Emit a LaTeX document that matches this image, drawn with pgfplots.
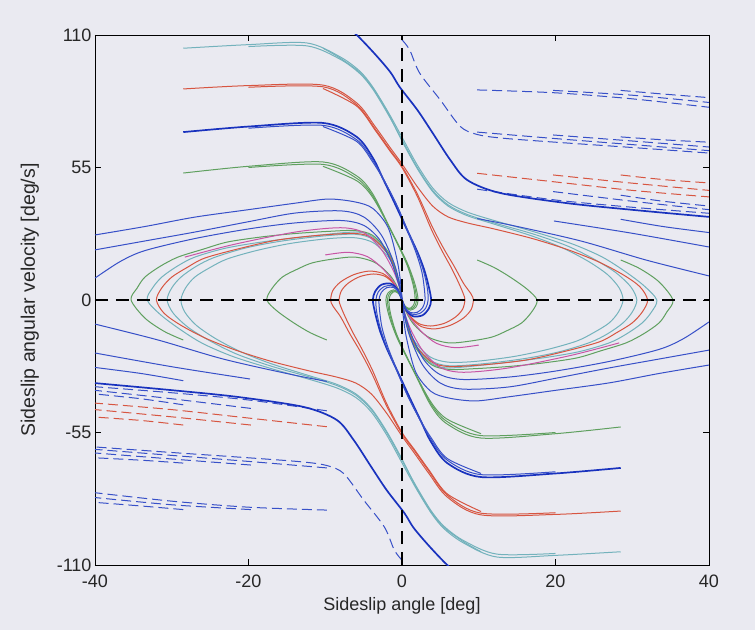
\documentclass[border=0pt]{standalone}
\usepackage{fontspec}
\setmainfont{Liberation Sans}
\usepackage{pgfplots}
\pgfplotsset{compat=1.18}
\definecolor{bgc}{RGB}{234,234,241}
\definecolor{cy}{RGB}{115,178,188}
\definecolor{rd}{RGB}{215,85,65}
\definecolor{gn}{RGB}{95,160,95}
\definecolor{bl}{RGB}{55,80,200}
\definecolor{bk}{RGB}{25,50,190}
\definecolor{pk}{RGB}{200,85,165}
\begin{document}
\begin{tikzpicture}
\fill[bgc] (-95pt,-65pt) rectangle (660pt,565pt);
\begin{axis}[
 scale only axis, width=614pt, height=530pt,
 xmin=-40,xmax=40,ymin=-110,ymax=110,
 xtick={-40,-20,0,20,40}, ytick={-110,-55,0,55,110},
 tick align=inside, major tick length=6pt,
 axis line style={black, line width=0.8pt},
 every tick/.style={black, line width=0.8pt},
 tick label style={font=\fontsize{18}{20}\selectfont, text=black!85},
 xticklabel style={yshift=-6pt},
 label style={text=black!85},
 /pgf/number format/assume math mode=true,
 xlabel={Sideslip angle [deg]},
 ylabel={Sideslip angular velocity [deg/s]},
 xlabel style={font=\fontsize{18}{20}\selectfont, at={(axis description cs:0.5,-0.077)},anchor=center},
 ylabel style={font=\fontsize{19.5}{21}\selectfont, at={(axis description cs:-0.106,0.5)},anchor=center},
 axis background/.style={fill=bgc},
 tr/.style={smooth, line width=1pt},
 cyl/.style={tr, cy},
 rdl/.style={tr, rd},
 gnl/.style={tr, gn},
 bll/.style={tr, bl},
 bkl/.style={tr, bk, line width=1.7pt},
 pkl/.style={tr, pk},
 dbl/.style={tr, bl, dash pattern=on 10pt off 5pt},
 drd/.style={tr, rd, dash pattern=on 10pt off 5pt},
]
% ---- cyan big loops
\addplot[cyl] coordinates {(-28.5,104.5) (-20,106) (-12.4,106.7) (-8.1,101) (-5.5,95) (-3.8,88.4) (-1.8,78) (0,67.6) (2,56) (4,46.5) (6,40.5) (8.5,36.5) (12,33) (17,28.5) (22,23.5) (26,18) (29,12) (31.5,6) (33.2,0) (32.5,-5) (31.3,-9.5) (29.3,-14) (27,-17.8) (23,-21.5) (18.2,-24.1) (12,-26.5) (6.1,-28.2) (3.8,-26.2) (1.6,-18.5) (0.5,-8.5) (0,0)};
\addplot[cyl] coordinates {(28.5,-104.5) (20,-106) (12.4,-106.7) (8.1,-101) (5.5,-95) (3.8,-88.4) (1.8,-78) (0,-67.6) (-2,-56) (-4,-46.5) (-6,-40.5) (-8.5,-36.5) (-12,-33) (-17,-28.5) (-22,-23.5) (-26,-18) (-29,-12) (-31.5,-6) (-33.2,0) (-32.5,5) (-31.3,9.5) (-29.3,14) (-27,17.8) (-23,21.5) (-18.2,24.1) (-12,26.5) (-6.1,28.2) (-3.8,26.2) (-1.6,18.5) (-0.5,8.5) (0,0)};
\addplot[cyl] coordinates {(-20,105.2) (-12.4,105.5) (-8.1,100) (-5.5,94) (-3.8,87.5) (-1.8,77) (0,66.5) (2,55) (4,45.5) (6,39.5) (8.5,35.5) (12,32) (17,27.5) (21.5,22.5) (25,17) (27.8,11.5) (29.8,5.5) (30.6,0) (30,-5) (28.8,-9.5) (26.8,-14) (24.5,-17.6) (20.5,-21.5) (16,-24.3) (10.5,-26.5) (6.1,-27.3) (3.7,-25) (1.5,-17.5) (0.4,-8) (0,0)};
\addplot[cyl] coordinates {(20,-105.2) (12.4,-105.5) (8.1,-100) (5.5,-94) (3.8,-87.5) (1.8,-77) (0,-66.5) (-2,-55) (-4,-45.5) (-6,-39.5) (-8.5,-35.5) (-12,-32) (-17,-27.5) (-21.5,-22.5) (-25,-17) (-27.8,-11.5) (-29.8,-5.5) (-30.6,0) (-30,5) (-28.8,9.5) (-26.8,14) (-24.5,17.6) (-20.5,21.5) (-16,24.3) (-10.5,26.5) (-6.1,27.3) (-3.7,25) (-1.5,17.5) (-0.4,8) (0,0)};
\addplot[cyl] coordinates {(-10.3,104.5) (-8.1,100.5) (-5.5,94.5) (-3.8,88) (-1.8,77.5) (0,66) (2,54.5) (4,45) (6,39) (8.5,35) (12,31.5) (17,26.5) (21,21.5) (24.3,16) (26.8,10.5) (28.3,5) (28.8,0) (28.2,-5) (27,-9.5) (25,-13.5) (22.8,-17) (19,-20.5) (14.5,-23.5) (9.5,-25.5) (6,-25.8) (3.6,-23.5) (1.5,-16.5) (0.4,-7.5) (0,0)};
\addplot[cyl] coordinates {(10.3,-104.5) (8.1,-100.5) (5.5,-94.5) (3.8,-88) (1.8,-77.5) (0,-66) (-2,-54.5) (-4,-45) (-6,-39) (-8.5,-35) (-12,-31.5) (-17,-26.5) (-21,-21.5) (-24.3,-16) (-26.8,-10.5) (-28.3,-5) (-28.8,0) (-28.2,5) (-27,9.5) (-25,13.5) (-22.8,17) (-19,20.5) (-14.5,23.5) (-9.5,25.5) (-6,25.8) (-3.6,23.5) (-1.5,16.5) (-0.4,7.5) (0,0)};
% ---- red
\addplot[rdl] coordinates {(-28.5,87.6) (-20,89) (-10.3,89.2) (-5.9,81.8) (-3.5,72) (-1.6,63.5) (0,56.5) (2,47) (4,39) (6,34.5) (8.5,32) (12,29.5) (17,25.5) (21.5,21) (25.5,16) (28.8,10.5) (31,5.5) (32,0) (31.3,-5) (30,-9.5) (28,-13.5) (25.7,-17.4) (21,-21.5) (16.2,-24.9) (11,-26.8) (6.1,-27.6) (3.8,-25.6) (1.6,-18) (0.5,-8) (0,0)};
\addplot[rdl] coordinates {(28.5,-87.6) (20,-89) (10.3,-89.2) (5.9,-81.8) (3.5,-72) (1.6,-63.5) (0,-56.5) (-2,-47) (-4,-39) (-6,-34.5) (-8.5,-32) (-12,-29.5) (-17,-25.5) (-21.5,-21) (-25.5,-16) (-28.8,-10.5) (-31,-5.5) (-32,0) (-31.3,5) (-30,9.5) (-28,13.5) (-25.7,17.4) (-21,21.5) (-16.2,24.9) (-11,26.8) (-6.1,27.6) (-3.8,25.6) (-1.6,18) (-0.5,8) (0,0)};
\addplot[rdl] coordinates {(-20,88.3) (-10.3,88.5) (-5.9,81) (-3.5,71) (-1.6,62.5) (0,55.5) (2,44) (4,30) (5.5,21) (6.8,14) (8,7) (9,2.5) (9.3,0) (9,-4) (8,-7.5) (6.3,-10.5) (4.3,-12) (2.5,-11) (1.2,-7.5) (0.3,-3) (0,0)};
\addplot[rdl] coordinates {(20,-88.3) (10.3,-88.5) (5.9,-81) (3.5,-71) (1.6,-62.5) (0,-55.5) (-2,-44) (-4,-30) (-5.5,-21) (-6.8,-14) (-8,-7) (-9,-2.5) (-9.3,0) (-9,4) (-8,7.5) (-6.3,10.5) (-4.3,12) (-2.5,11) (-1.2,7.5) (-0.3,3) (0,0)};
\addplot[rdl] coordinates {(-10.3,87.8) (-5.9,80.5) (-3.5,70.5) (-1.6,62) (0,55) (2,43) (3.8,29.5) (5.2,20.5) (6.4,13.5) (7.4,7) (8,2.5) (8.2,0) (7.9,-3.8) (7,-7) (5.5,-9.7) (3.7,-10.8) (2.2,-9.8) (1,-6.5) (0.3,-2.8) (0,0)};
\addplot[rdl] coordinates {(10.3,-87.8) (5.9,-80.5) (3.5,-70.5) (1.6,-62) (0,-55) (-2,-43) (-3.8,-29.5) (-5.2,-20.5) (-6.4,-13.5) (-7.4,-7) (-8,-2.5) (-8.2,0) (-7.9,3.8) (-7,7) (-5.5,9.7) (-3.7,10.8) (-2.2,9.8) (-1,6.5) (-0.3,2.8) (0,0)};
% ---- green
\addplot[gnl] coordinates {(-28.5,52.7) (-20,55.5) (-10.3,57.3) (-5.9,51.5) (-3.8,44) (-1.6,30) (0.6,16) (1.7,6.5) (2.1,0) (1.8,-3) (1.1,-4.2) (0.4,-2.9) (0,0)};
\addplot[gnl] coordinates {(28.5,-52.7) (20,-55.5) (10.3,-57.3) (5.9,-51.5) (3.8,-44) (1.6,-30) (-0.6,-16) (-1.7,-6.5) (-2.1,0) (-1.8,3) (-1.1,4.2) (-0.4,2.9) (0,0)};
\addplot[gnl] coordinates {(-20,55) (-10.3,56.3) (-5.9,50.5) (-3.8,43.2) (-1.5,29.3) (0.6,15.5) (1.6,6) (1.9,0) (1.6,-2.8) (1,-3.8) (0.4,-2.6) (0,0)};
\addplot[gnl] coordinates {(20,-55) (10.3,-56.3) (5.9,-50.5) (3.8,-43.2) (1.5,-29.3) (-0.6,-15.5) (-1.6,-6) (-1.9,0) (-1.6,2.8) (-1,3.8) (-0.4,2.6) (0,0)};
\addplot[gnl] coordinates {(-10.3,55.5) (-5.9,49.5) (-3.8,42.5) (-1.4,28.5) (0.6,15) (1.5,5.6) (1.7,0) (1.4,-2.6) (0.9,-3.5) (0.3,-2.3) (0,0)};
\addplot[gnl] coordinates {(10.3,-55.5) (5.9,-49.5) (3.8,-42.5) (1.4,-28.5) (-0.6,-15) (-1.5,-5.6) (-1.7,0) (-1.4,2.6) (-0.9,3.5) (-0.3,2.3) (0,0)};
\addplot[gnl] coordinates {(28.5,16.6) (31,13) (33.5,7.5) (35.3,0) (34.5,-5) (33.5,-9.5) (31.5,-14) (29.2,-17.8) (26,-21) (22.7,-24.1) (18,-26.3) (13.9,-27.6) (9.5,-28.5) (6.1,-28.8) (3.8,-26.8) (1.6,-19) (0.5,-8.5) (0,0)};
\addplot[gnl] coordinates {(-28.5,-16.6) (-31,-13) (-33.5,-7.5) (-35.3,0) (-34.5,5) (-33.5,9.5) (-31.5,14) (-29.2,17.8) (-26,21) (-22.7,24.1) (-18,26.3) (-13.9,27.6) (-9.5,28.5) (-6.1,28.8) (-3.8,26.8) (-1.6,19) (-0.5,8.5) (0,0)};
\addplot[gnl] coordinates {(9.8,16.6) (12,13.5) (14.1,9.5) (16.3,4.5) (17.6,0) (17,-4.5) (15.6,-9.5) (13.5,-13) (11.7,-15.4) (9,-17) (6.1,-17.8) (3.5,-15.5) (1.5,-10) (0.4,-4) (0,0)};
\addplot[gnl] coordinates {(-9.8,-16.6) (-12,-13.5) (-14.1,-9.5) (-16.3,-4.5) (-17.6,0) (-17,4.5) (-15.6,9.5) (-13.5,13) (-11.7,15.4) (-9,17) (-6.1,17.8) (-3.5,15.5) (-1.5,10) (-0.4,4) (0,0)};
% ---- pink
\addplot[pkl] coordinates {(-28.3,17.8) (-22,23) (-13.9,28.2) (-8,30) (-5,28) (-2.7,21) (-1.1,12) (-0.2,4) (0,0)};
\addplot[pkl] coordinates {(28.3,-17.8) (22,-23) (13.9,-28.2) (8,-30) (5,-28) (2.7,-21) (1.1,-12) (0.2,-4) (0,0)};
\addplot[pkl] coordinates {(-10,18.7) (-7,19.8) (-4.5,18) (-2.5,13) (-1,7) (-0.2,2) (0,0)};
\addplot[pkl] coordinates {(10,-18.7) (7,-19.8) (4.5,-18) (2.5,-13) (1,-7) (0.2,-2) (0,0)};
% ---- blue from side edges
\addplot[bll] coordinates {(-40,27) (-33.5,30.5) (-27,34.4) (-20,37.5) (-13.9,40.2) (-9.6,41.9) (-6.1,40.7) (-3.8,38) (-1.8,30) (-0.6,16) (-0.1,5) (0,0)};
\addplot[bll] coordinates {(40,-27) (33.5,-30.5) (27,-34.4) (20,-37.5) (13.9,-40.2) (9.6,-41.9) (6.1,-40.7) (3.8,-38) (1.8,-30) (0.6,-16) (0.1,-5) (0,0)};
\addplot[bll] coordinates {(-40,20.8) (-33.5,24.5) (-27,28.2) (-20,32.5) (-13.9,36.1) (-8,37) (-5,34.5) (-2.7,27) (-1,15) (-0.2,5) (0,0)};
\addplot[bll] coordinates {(40,-20.8) (33.5,-24.5) (27,-28.2) (20,-32.5) (13.9,-36.1) (8,-37) (5,-34.5) (2.7,-27) (1,-15) (0.2,-5) (0,0)};
\addplot[bll] coordinates {(-40,9.1) (-36.7,16) (-33.5,20.5) (-27,25.5) (-20,29.5) (-13.9,32) (-8,33) (-5,31) (-2.9,25) (-1.3,15) (-0.3,5) (0,0)};
\addplot[bll] coordinates {(40,-9.1) (36.7,-16) (33.5,-20.5) (27,-25.5) (20,-29.5) (13.9,-32) (8,-33) (5,-31) (2.9,-25) (1.3,-15) (0.3,-5) (0,0)};
% ---- solid blue outgoing
\addplot[bll] coordinates {(9.8,33.8) (14.6,30.8) (23.3,24.5) (31.9,16.5) (40,10)};
\addplot[bll] coordinates {(-9.8,-33.8) (-14.6,-30.8) (-23.3,-24.5) (-31.9,-16.5) (-40,-10)};
\addplot[bll] coordinates {(19.8,32.8) (29.8,27.8) (40,22)};
\addplot[bll] coordinates {(-19.8,-32.8) (-29.8,-27.8) (-40,-22)};
\addplot[bll] coordinates {(28.5,33.5) (34,30.5) (40,28)};
\addplot[bll] coordinates {(-28.5,-33.5) (-34,-30.5) (-40,-28)};
% ---- dashed bands
\addplot[dbl] coordinates {(9.8,87.2) (20,86) (30,83.5) (40,80)};
\addplot[dbl] coordinates {(-9.8,-87.2) (-20,-86) (-30,-83.5) (-40,-80)};
\addplot[dbl] coordinates {(19.7,87) (30,85) (40,82)};
\addplot[dbl] coordinates {(-19.7,-87) (-30,-85) (-40,-82)};
\addplot[dbl] coordinates {(28.5,87) (34,85.5) (40,84)};
\addplot[dbl] coordinates {(-28.5,-87) (-34,-85.5) (-40,-84)};
\addplot[dbl] coordinates {(9.8,69.7) (20,67) (30,64.5) (40,62)};
\addplot[dbl] coordinates {(-9.8,-69.7) (-20,-67) (-30,-64.5) (-40,-62)};
\addplot[dbl] coordinates {(19.7,68.5) (30,66) (40,63.5)};
\addplot[dbl] coordinates {(-19.7,-68.5) (-30,-66) (-40,-63.5)};
\addplot[dbl] coordinates {(28.5,67.7) (34,66.5) (40,65.5)};
\addplot[dbl] coordinates {(-28.5,-67.7) (-34,-66.5) (-40,-65.5)};
\addplot[drd] coordinates {(9.8,52.6) (20,49) (30,45.5) (40,42.8)};
\addplot[drd] coordinates {(-9.8,-52.6) (-20,-49) (-30,-45.5) (-40,-42.8)};
\addplot[drd] coordinates {(19.7,51.9) (30,48.5) (40,45.5)};
\addplot[drd] coordinates {(-19.7,-51.9) (-30,-48.5) (-40,-45.5)};
\addplot[drd] coordinates {(28.5,51.9) (34,50) (40,48.6)};
\addplot[drd] coordinates {(-28.5,-51.9) (-34,-50) (-40,-48.6)};
\addplot[dbl] coordinates {(9.8,46) (20,41.5) (30,38.5) (40,36)};
\addplot[dbl] coordinates {(-9.8,-46) (-20,-41.5) (-30,-38.5) (-40,-36)};
\addplot[dbl] coordinates {(19.7,45) (30,41) (40,37.5)};
\addplot[dbl] coordinates {(-19.7,-45) (-30,-41) (-40,-37.5)};
\addplot[dbl] coordinates {(28.5,43.5) (34,41) (40,39)};
\addplot[dbl] coordinates {(-28.5,-43.5) (-34,-41) (-40,-39)};
\addplot[dbl] coordinates {(0,108) (1,103.8) (2.3,94.2) (5,83) (7.6,72) (9.8,68.7) (13,67.2) (20,65.5) (30,63.3) (40,61)};
\addplot[dbl] coordinates {(0,-108) (-1,-103.8) (-2.3,-94.2) (-5,-83) (-7.6,-72) (-9.8,-68.7) (-13,-67.2) (-20,-65.5) (-30,-63.3) (-40,-61)};
% ---- thick blue
\addplot[bkl] coordinates {(-28.5,69.7) (-20,72) (-10.3,73.5) (-5.9,67.7) (-3.8,59) (-2.5,50.5) (-1,40.5) (0.6,29.5) (2,20) (2.9,12.5) (3.5,5.4) (3.8,0) (3.5,-3.5) (2.7,-6.3) (1.5,-6.8) (0.6,-4.5) (0,0)};
\addplot[bkl] coordinates {(28.5,-69.7) (20,-72) (10.3,-73.5) (5.9,-67.7) (3.8,-59) (2.5,-50.5) (1,-40.5) (-0.6,-29.5) (-2,-20) (-2.9,-12.5) (-3.5,-5.4) (-3.8,0) (-3.5,3.5) (-2.7,6.3) (-1.5,6.8) (-0.6,4.5) (0,0)};
\addplot[bll] coordinates {(-20,71.3) (-10.3,72.5) (-5.9,66.5) (-3.8,58) (-2.3,49.5) (-0.7,39.5) (0.8,28.5) (2,19.5) (2.8,12) (3.3,5) (3.4,0) (3.1,-3.3) (2.3,-5.6) (1.3,-5.9) (0.5,-3.8) (0,0)};
\addplot[bll] coordinates {(20,-71.3) (10.3,-72.5) (5.9,-66.5) (3.8,-58) (2.3,-49.5) (0.7,-39.5) (-0.8,-28.5) (-2,-19.5) (-2.8,-12) (-3.3,-5) (-3.4,0) (-3.1,3.3) (-2.3,5.6) (-1.3,5.9) (-0.5,3.8) (0,0)};
\addplot[bll] coordinates {(-10.3,72) (-5.9,65.8) (-3.8,57.2) (-2.2,48.8) (-0.6,38.8) (0.8,28) (1.9,19) (2.6,11.5) (2.9,5) (3,0) (2.7,-3.1) (2,-5.1) (1.1,-5.2) (0.4,-3.2) (0,0)};
\addplot[bll] coordinates {(10.3,-72) (5.9,-65.8) (3.8,-57.2) (2.2,-48.8) (0.6,-38.8) (-0.8,-28) (-1.9,-19) (-2.6,-11.5) (-2.9,-5) (-3,0) (-2.7,3.1) (-2,5.1) (-1.1,5.2) (-0.4,3.2) (0,0)};
\addplot[bkl] coordinates {(-7.6,114) (-5.9,110) (-3.5,102) (-1.5,94.5) (-0.3,88.4) (2,78.9) (4,69.3) (6.3,58.1) (8.5,49.8) (12.8,44.4) (21.5,40.2) (30.1,37.4) (40,34.5)};
\addplot[bkl] coordinates {(7.6,-114) (5.9,-110) (3.5,-102) (1.5,-94.5) (0.3,-88.4) (-2,-78.9) (-4,-69.3) (-6.3,-58.1) (-8.5,-49.8) (-12.8,-44.4) (-21.5,-40.2) (-30.1,-37.4) (-40,-34.5)};
% ---- dashed zero lines
\addplot[black, line width=1.3pt, dash pattern=on 13pt off 8pt] coordinates {(-40,0) (40,0)};
\addplot[black, line width=1.3pt, dash pattern=on 13pt off 8pt] coordinates {(0,-110) (0,110)};
\end{axis}
\end{tikzpicture}
\end{document}
